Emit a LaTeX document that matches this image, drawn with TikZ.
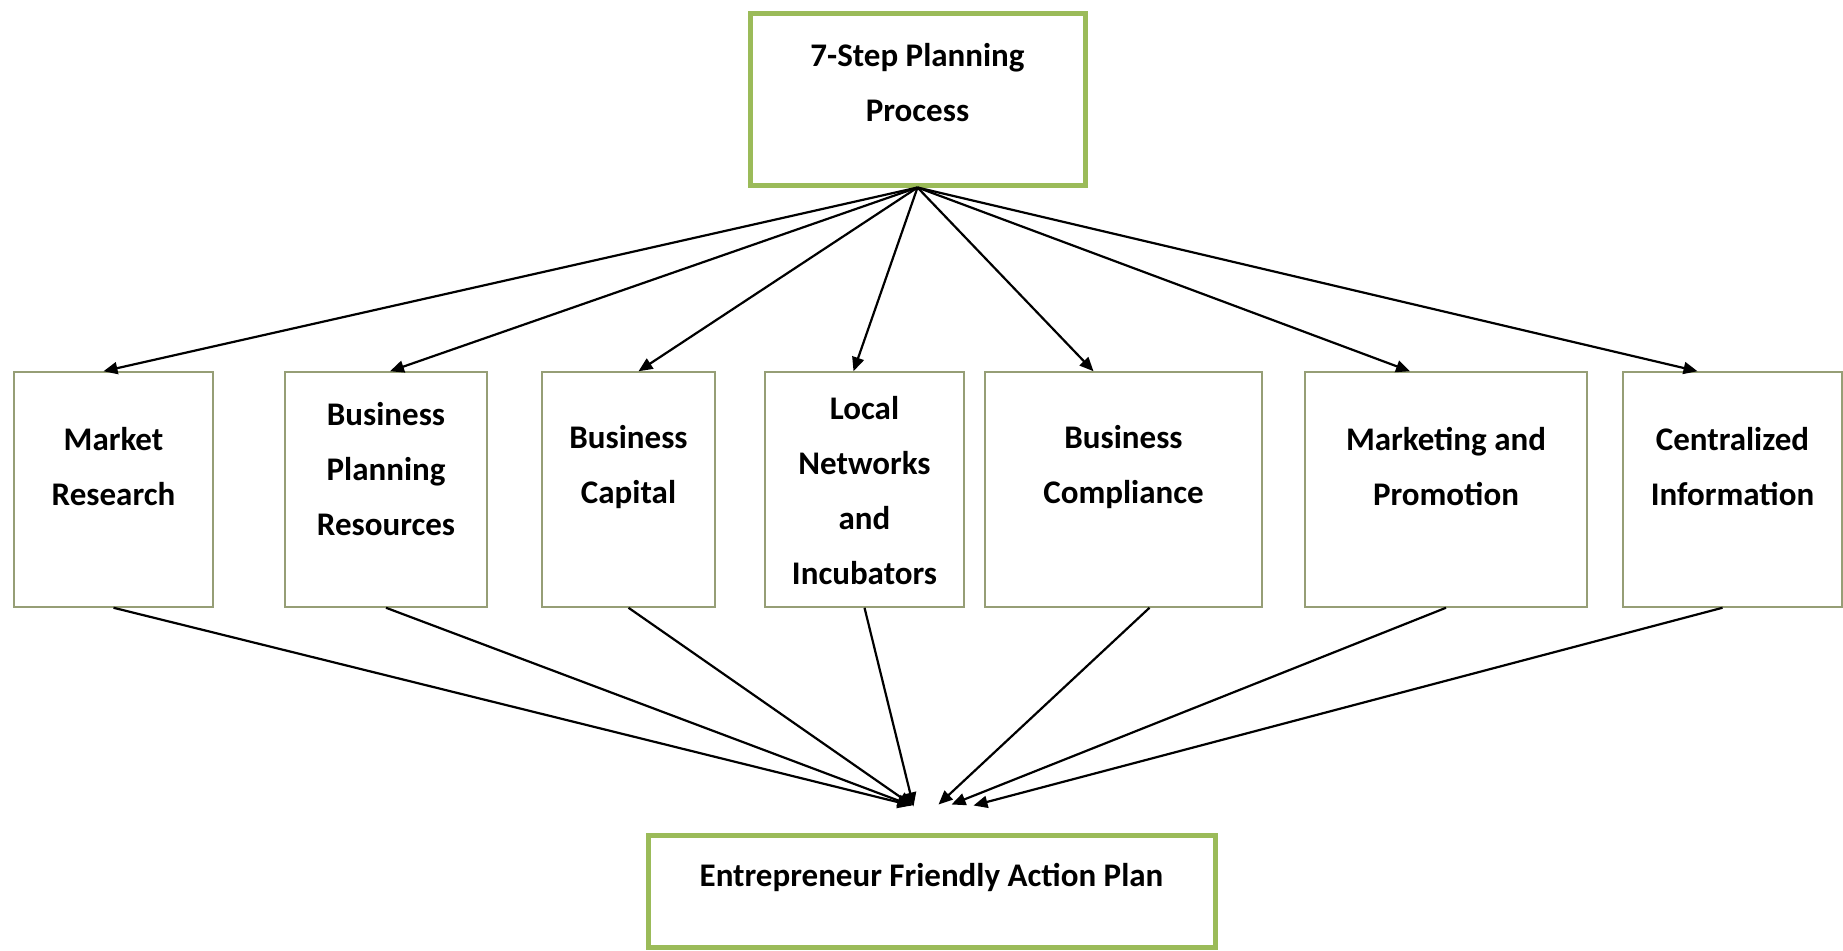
\documentclass[tikz,border=0pt]{standalone}
\usepackage{fontspec}
\setmainfont{Carlito}
\usetikzlibrary{arrows.meta, positioning, calc}

\definecolor{boxgreen}{RGB}{155,187,89}
\definecolor{boxline}{RGB}{150,158,118}

\tikzset{
    mainbox/.style={draw=boxgreen, line width=5pt, fill=white, inner sep=0pt},
    stepbox/.style={draw=boxline, line width=1.5pt, fill=white, minimum height=235pt, inner sep=0pt},
    boxtext/.style={align=center, font=\fontsize{33}{55}\selectfont\bfseries}
}

\begin{document}
\begin{tikzpicture}[x=1pt, y=-1pt, >={Triangle[length=14pt, width=12pt]}]
    \useasboundingbox (0,0) rectangle (1843,950);

    \node[mainbox, minimum width=335pt, minimum height=171pt,
        label={[boxtext, yshift=17pt]center:{7-Step Planning\\Process}}] (plan) at (917.5,99.5) {};

    \node[stepbox, minimum width=199pt,
        label={[boxtext, yshift=22.5pt]center:{Market\\Research}}] (mr) at (113.5,489.5) {};
    \node[stepbox, minimum width=202pt,
        label={[boxtext, yshift=20.5pt]center:{Business\\Planning\\Resources}}] (bpr) at (386,489.5) {};
    \node[stepbox, minimum width=173pt,
        label={[boxtext, yshift=22.5pt]center:{Business\\Capital}}] (cap) at (628.5,489.5) {};
    \node[stepbox, minimum width=199pt,
        label={[boxtext, yshift=-1pt]center:{Local\\Networks\\and\\Incubators}}] (lni) at (864.5,489.5) {};
    \node[stepbox, minimum width=277pt,
        label={[boxtext, yshift=22.5pt]center:{Business\\Compliance}}] (comp) at (1123.5,489.5) {};
    \node[stepbox, minimum width=282pt,
        label={[boxtext, yshift=22.5pt]center:{Marketing and\\Promotion}}] (mkt) at (1446,489.5) {};
    \node[stepbox, minimum width=219pt,
        label={[boxtext, yshift=22.5pt]center:{Centralized\\Information}}] (ci) at (1732.5,489.5) {};

    \node[mainbox, minimum width=567pt, minimum height=112pt,
        label={[boxtext, yshift=14pt]center:{Entrepreneur Friendly Action Plan}}] (efap) at (931.5,891) {};

    \path[->, line width=2.2pt]
    (plan.south) edge ([xshift=-10pt]mr.north)
        (plan.south) edge ([xshift=4pt]bpr.north)
        (plan.south) edge ([xshift=10pt]cap.north)
        (plan.south) edge ([xshift=-11pt]lni.north)
        (plan.south) edge ([xshift=-30pt]comp.north)
        (plan.south) edge ([xshift=-36pt]mkt.north)
        (plan.south) edge ([xshift=-35pt]ci.north)
    (mr.south) edge ([shift={(-20,-27)}]efap.north)
        (bpr.south) edge ([shift={(-20,-27)}]efap.north)
        (cap.south) edge ([shift={(-19,-27)}]efap.north)
        (lni.south) edge ([shift={(-18,-26)}]efap.north)
        ([xshift=26pt]comp.south) edge ([shift={(7,-28)}]efap.north)
        (mkt.south) edge ([shift={(20,-28)}]efap.north)
        ([xshift=-10pt]ci.south) edge ([shift={(42,-27)}]efap.north);
\end{tikzpicture}
\end{document}
